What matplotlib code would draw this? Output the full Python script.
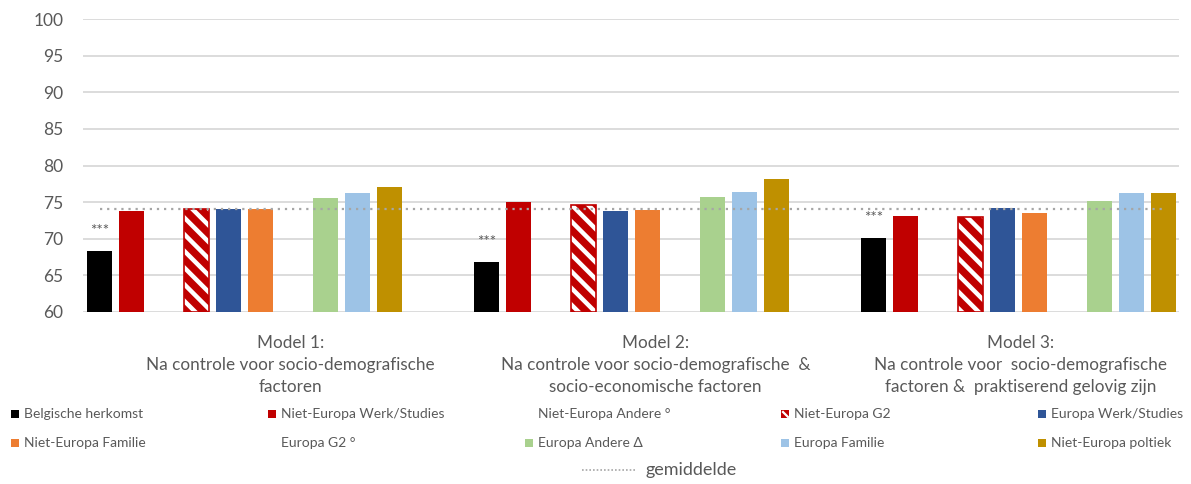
import matplotlib
matplotlib.use("Agg")
import matplotlib.pyplot as plt
from matplotlib.patches import Rectangle
from matplotlib.lines import Line2D

plt.rcParams['font.family'] = ['Lato', 'DejaVu Sans']
plt.rcParams['hatch.linewidth'] = 3.2

# data
models = ["Model 1:\nNa controle voor socio-demografische\nfactoren",
          "Model 2:\nNa controle voor socio-demografische  &\nsocio-economische factoren",
          "Model 3:\nNa controle voor  socio-demografische\nfactoren &  praktiserend gelovig zijn"]
series = ["Belgische herkomst", "Niet-Europa Werk/Studies", "Niet-Europa Andere °",
          "Niet-Europa G2", "Europa Werk/Studies", "Niet-Europa Familie",
          "Europa G2 °", "Europa Andere Δ", "Europa Familie", "Niet-Europa poltiek"]
colors = ["#000000", "#C00000", None, "#C00000", "#2F5597", "#ED7D31",
          None, "#A9D18E", "#9DC3E6", "#BF9000"]
values = {
    "Belgische herkomst":       [68.3, 66.8, 70.1],
    "Niet-Europa Werk/Studies": [73.8, 75.0, 73.1],
    "Niet-Europa Andere °":     [None, None, None],
    "Niet-Europa G2":           [74.0, 74.6, 73.0],
    "Europa Werk/Studies":      [74.0, 73.8, 74.2],
    "Niet-Europa Familie":      [74.0, 73.9, 73.5],
    "Europa G2 °":              [None, None, None],
    "Europa Andere Δ":          [75.6, 75.7, 75.1],
    "Europa Familie":           [76.2, 76.4, 76.2],
    "Niet-Europa poltiek":      [77.1, 78.1, 76.2],
}
mean_value = 74.1
signif = ["***", "***", "***"]

W, H = 1191, 484
fig = plt.figure(figsize=(W / 100, H / 100), dpi=100)
ax = fig.add_axes([83 / W, 1 - 312 / H, (1179 - 83) / W, (312 - 19) / H])

grey = "#595959"
group_step = 12
bw = 0.775

for s, name in enumerate(series):
    col = colors[s]
    for g, v in enumerate(values[name]):
        if v is None:
            continue
        x = g * group_step + s
        if name == "Niet-Europa G2":
            ax.bar(x, v - 60, bottom=60, width=bw, color=col, edgecolor="white",
                   hatch="\\\\", linewidth=0, zorder=3)
            ax.bar(x, v - 60, bottom=60, width=bw, fill=False, edgecolor=col,
                   linewidth=1.2, zorder=4)
        else:
            ax.bar(x, v - 60, bottom=60, width=bw, color=col, linewidth=0, zorder=3)

# significance stars above the reference bars
for g, v in enumerate(values["Belgische herkomst"]):
    ax.text(g * group_step, v + 2.8, signif[g], ha="center", va="center",
            fontsize=11, color=grey, zorder=5)

# average line
last_x = (len(models) - 1) * group_step + len(series) - 1
ax.plot([0, last_x], [mean_value, mean_value], color="#A6A6A6", linestyle=(0, (1, 2.2)),
        linewidth=1.6, zorder=4)

ax.set_xlim(-0.512, 33.47)
ax.set_ylim(60, 100)
ax.set_yticks(range(60, 101, 5))
ax.yaxis.grid(True, color="#D9D9D9", linewidth=1.3, zorder=0)
ax.set_axisbelow(True)
ax.set_xticks([])
for sp in ax.spines.values():
    sp.set_visible(False)
ax.tick_params(axis="y", length=0, labelsize=12.5, labelcolor=grey, pad=14)

for g, label in enumerate(models):
    ax.text((g + 0.5) / 3 + 0.0225, -0.078, label, transform=ax.transAxes,
            ha="center", va="top", fontsize=12.3, color=grey, linespacing=1.45)

# legend, drawn by hand in Excel's grid
col_x = [11, 268, 525, 781, 1038]
row_y = [414, 443]
for i, name in enumerate(series):
    r, c = divmod(i, 5)
    x0, y0 = col_x[c], row_y[r]
    if colors[i] is not None:
        fig.patches.append(Rectangle((x0 / W, 1 - (y0 + 4) / H), 8 / W, 8 / H,
                                     transform=fig.transFigure, facecolor=colors[i],
                                     linewidth=0))
        if name == "Niet-Europa G2":
            # one white stripe like Excel's shrunken pattern swatch
            fig.lines.append(Line2D([(x0 + 2) / W, (x0 + 7) / W],
                                    [1 - (y0 - 2) / H, 1 - (y0 + 3) / H],
                                    transform=fig.transFigure, color="white",
                                    linewidth=1.6))
    fig.text((x0 + 13) / W, 1 - y0 / H, name, ha="left", va="center",
             fontsize=10, color=grey)

fig.lines.append(Line2D([582 / W, 635 / W], [1 - 470 / H, 1 - 470 / H],
                        transform=fig.transFigure, color="#A6A6A6",
                        linestyle=(0, (1, 1.2)), linewidth=1.2))
fig.text(646 / W, 1 - 470 / H, "gemiddelde", ha="left", va="center",
         fontsize=13, color=grey)

fig.savefig("out.png", dpi=100)
